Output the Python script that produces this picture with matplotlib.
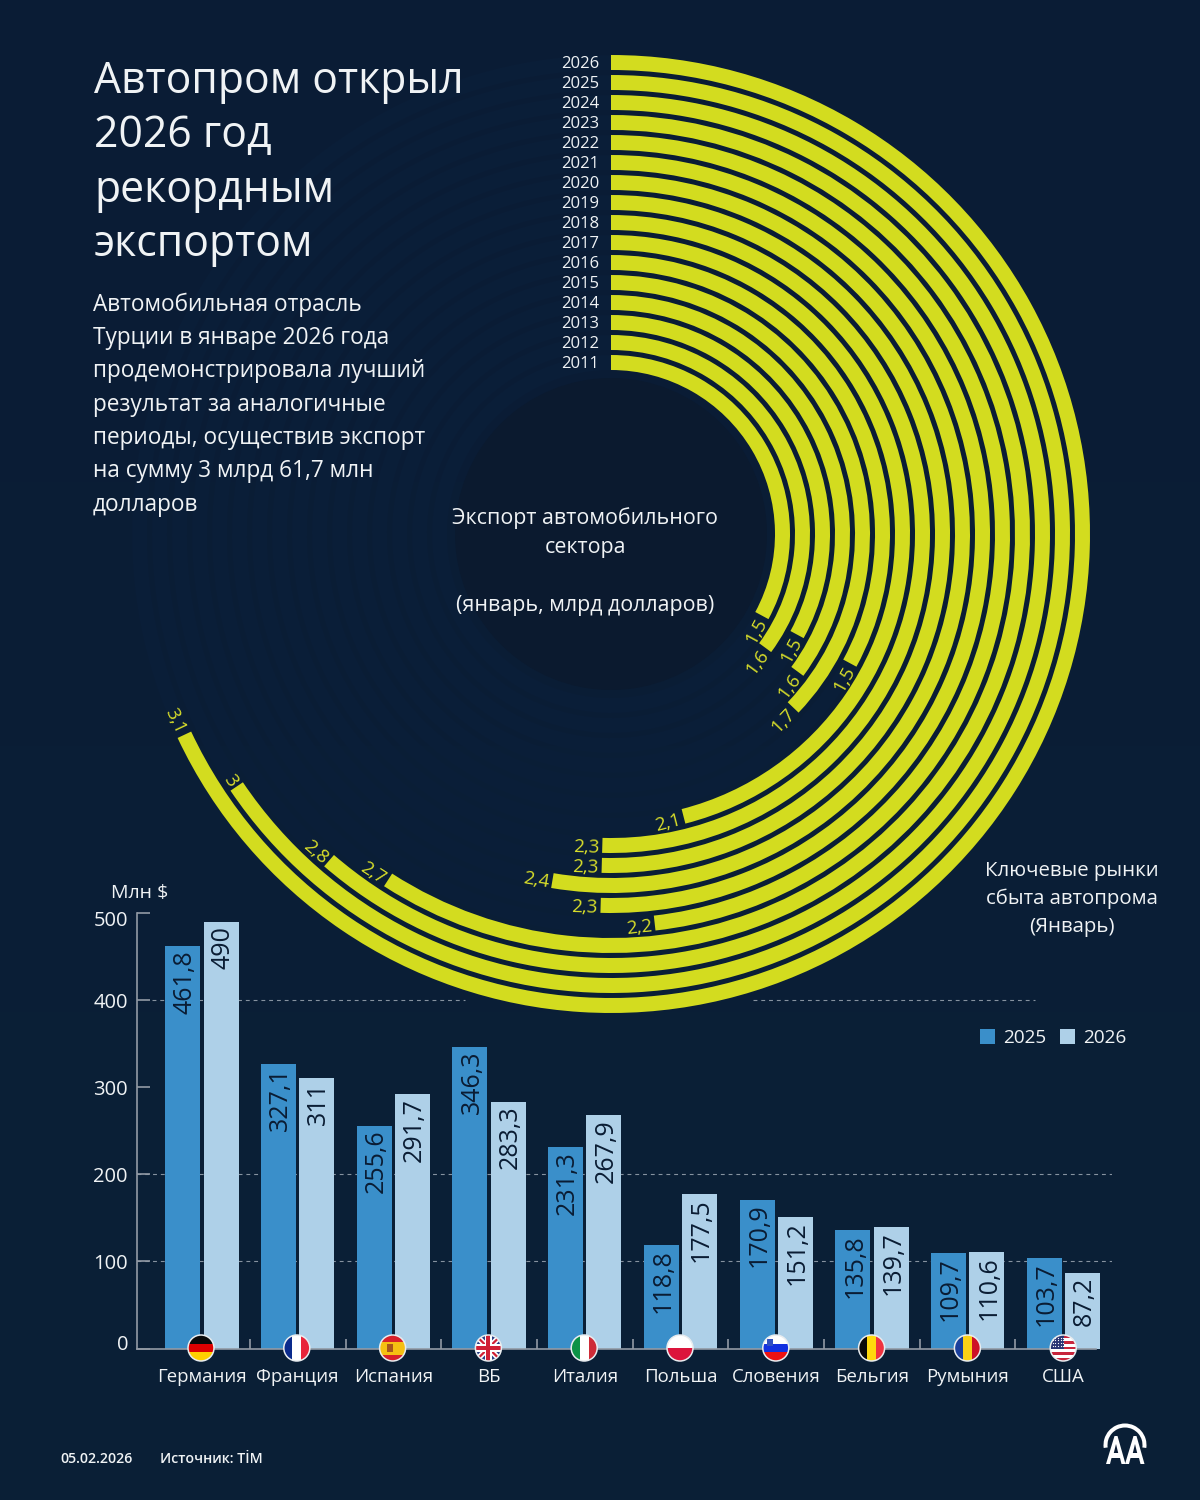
import numpy as np
import matplotlib
matplotlib.use("Agg")
import matplotlib.pyplot as plt
from matplotlib.patches import Circle, Rectangle, Polygon, Wedge
from matplotlib.transforms import ScaledTranslation

plt.rcParams['font.family'] = ['Open Sans', 'DejaVu Sans']

# ---------- data ----------
years = [2026, 2025, 2024, 2023, 2022, 2021, 2020, 2019, 2018, 2017, 2016, 2015, 2014, 2013, 2012, 2011]
exports = [3.06, 2.95, 2.76, 2.66, 2.17, 2.27, 2.37, 2.27, 2.27, 2.07, 1.48, 1.67, 1.58, 1.48, 1.58, 1.48]
countries = ["Германия", "Франция", "Испания", "ВБ", "Италия", "Польша", "Словения", "Бельгия", "Румыния", "США"]
v2025 = [461.8, 327.1, 255.6, 346.3, 231.3, 118.8, 170.9, 135.8, 109.7, 103.7]
v2026 = [490, 311, 291.7, 283.3, 267.9, 177.5, 151.2, 139.7, 110.6, 87.2]
y_ticks = [0, 100, 200, 300, 400, 500]
title_lines = ["Автопром открыл", "2026 год", "рекордным", "экспортом"]
body_lines = ["Автомобильная отрасль", "Турции в январе 2026 года", "продемонстрировала лучший",
              "результат за аналогичные", "периоды, осуществив экспорт", "на сумму 3 млрд 61,7 млн", "долларов"]

# ---------- style ----------
W, H = 1200, 1500
PX = 72 / 100
BG = '#0a1c34'
YEL = '#d3dc1f'
YELT = '#d9df2a'
C25 = '#3a8fca'
C26 = '#aed0e8'
INK = '#0a1c33'
TXT = '#f0f3f5'
AX = '#929aa5'
DEG_PER_UNIT = 80.0

fig = plt.figure(figsize=(12, 15), dpi=100, facecolor=BG)

# background
bg = fig.add_axes([0, 0, 1, 1], zorder=0)
bg.imshow([[0.0], [1.0]], extent=(0, W, H, 0), aspect='auto', interpolation='bicubic',
          cmap=matplotlib.colors.LinearSegmentedColormap.from_list('b', ['#0a1c35', '#0a2037']))
bg.set_xlim(0, W); bg.set_ylim(H, 0); bg.axis('off')
bg.add_patch(Circle((611, 534), 156, fc='#0b1a2f', ec='none', zorder=3))

# ---------- radial bars ----------
cx, cy, rmax = 611, 534, 500
pol = fig.add_axes([(cx - rmax) / W, (H - cy - rmax) / H, 2 * rmax / W, 2 * rmax / H],
                   projection='polar', zorder=2)
pol.patch.set_alpha(0)
pol.set_theta_zero_location('N'); pol.set_theta_direction(-1)
pol.set_ylim(0, rmax); pol.axis('off')
radii = [471.5 - 20 * i for i in range(len(years))]
thetas = np.radians(np.array(exports) * DEG_PER_UNIT)
pol.barh(radii, 2 * np.pi - thetas, left=thetas, height=15, color='#0a1e38', linewidth=0, zorder=1)
pol.barh(radii, thetas, left=0, height=15, color=YEL, linewidth=0, zorder=3)
for yr, r, v, th in zip(years, radii, exports, thetas):
    lab = f"{v:.1f}".replace('.', ',').replace(',0', '')
    pol.text(th + 3 / r, r + 2.5, lab, rotation=180 - np.degrees(th), rotation_mode='anchor',
             ha='right', va='center', color=YELT, fontsize=13.5, zorder=4)
    pol.annotate(str(yr), (0, r), xytext=(-12 * PX, -1.5 * PX), textcoords='offset points',
                 ha='right', va='center', color=TXT, fontsize=12, zorder=4)

# ---------- bar chart ----------
L, R, B, T = 137, 1112, 1348.5, 913
x0, pitch = 202, 95.7
ax = fig.add_axes([L / W, (H - B) / H, (R - L) / W, (B - T) / H], zorder=3)
ax.patch.set_alpha(0)
px2x = lambda p: (p - x0) / pitch
ax.set_xlim(px2x(L), px2x(R)); ax.set_ylim(0, 500)
x = np.arange(len(countries))
off, bw = 0.2, 0.366
b1 = ax.bar(x - off, v2025, bw, color=C25, label='2025', zorder=3)
b2 = ax.bar(x + off, v2026, bw, color=C26, label='2026', zorder=3)
for bars, vals in ((b1, v2025), (b2, v2026)):
    for rect, v in zip(bars, vals):
        ax.annotate(f"{v:g}".replace('.', ','), (rect.get_x() + rect.get_width() / 2, v),
                    xytext=(2 * PX, -4 * PX), textcoords='offset points', rotation=90,
                    ha='center', va='top', color=INK, fontsize=18, zorder=4)
grid_kw = dict(colors='#8692a0', linewidth=0.8, linestyles=(0, (3.5, 3.5)), zorder=1)
ax.hlines([100, 200], px2x(L), px2x(R), **grid_kw)
ax.hlines([400, 400], [px2x(152), px2x(753)], [px2x(465), px2x(1035)], **grid_kw)
for s in ('top', 'right'):
    ax.spines[s].set_visible(False)
ax.spines['left'].set_color(AX); ax.spines['left'].set_linewidth(1.2)
ax.spines['bottom'].set_color(AX); ax.spines['bottom'].set_linewidth(1.2)
ax.spines['bottom'].set_bounds(px2x(L), px2x(1096))
ax.spines['bottom'].set_zorder(5)
ax.set_yticks(y_ticks)
ax.tick_params(axis='y', direction='in', length=13 * PX, width=1.2, color=AX, labelcolor=TXT,
               labelsize=14.5, pad=9 * PX)
ax.set_xticks(x); ax.set_xticklabels(countries)
ax.tick_params(axis='x', which='major', length=0, labelcolor=TXT, labelsize=13.4, pad=19 * PX)
ax.set_xticks(list(x[:-1] + 0.5) + [px2x(1096)], minor=True)
ax.tick_params(axis='x', which='minor', direction='in', length=10 * PX, width=1.2, color=AX)
ylabs = ax.get_yticklabels()
ylabs[0].set_transform(ylabs[0].get_transform() + ScaledTranslation(0, 6 * PX / 72, fig.dpi_scale_trans))
ylabs[-1].set_transform(ylabs[-1].get_transform() + ScaledTranslation(0, -6 * PX / 72, fig.dpi_scale_trans))
fig.legend(handles=[b1, b2], loc='center left', bbox_to_anchor=(980 / W, 1 - 1038 / H), ncols=2,
           frameon=False, fontsize=13.7, labelcolor=TXT, handlelength=0.79, handleheight=0.79,
           handletextpad=0.42, columnspacing=0.74, borderpad=0, borderaxespad=0)

# ---------- overlay (text, flags, logo) ----------
ov = fig.add_axes([0, 0, 1, 1], zorder=5)
ov.patch.set_alpha(0)
ov.set_xlim(0, W); ov.set_ylim(H, 0); ov.axis('off')

for line, y in zip(title_lines, (82, 136, 191, 245)):
    ov.text(94, y, line, color=TXT, fontsize=30.8, va='center', ha='left')
for line, y in zip(body_lines, (305, 338, 371, 405, 438, 471, 505)):
    ov.text(93, y, line, color=TXT, fontsize=16.3, va='center', ha='left')
for line, y in zip(["Экспорт автомобильного", "сектора", "(январь, млрд долларов)"], (518, 547, 605)):
    ov.text(585, y, line, color=TXT, fontsize=15.4, va='center', ha='center')
for line, y in zip(["Ключевые рынки", "сбыта автопрома", "(Январь)"], (871, 899, 927)):
    ov.text(1072, y, line, color=TXT, fontsize=14.7, va='center', ha='center')
ov.text(111, 893, "Млн $", color=TXT, fontsize=14, va='center', ha='left')
ov.text(60, 1459, "05.02.2026", color=TXT, fontsize=10.2, va='center', ha='left', fontweight='semibold')
ov.text(160, 1459, "Источник: TİM", color=TXT, fontsize=10.2, va='center', ha='left', fontweight='semibold')


def flag(cx_, cy_, kind, r=13):
    clip = Circle((cx_, cy_), r, fc='white', ec='none', zorder=20)
    ov.add_patch(clip)
    def rect(x_, y_, w_, h_, c):
        p = Rectangle((cx_ - r + x_ * 2 * r, cy_ - r + y_ * 2 * r), w_ * 2 * r, h_ * 2 * r, fc=c, ec='none', zorder=21)
        ov.add_patch(p); p.set_clip_path(clip)
    def hs(cols, ws=None):
        ws = ws or [1 / len(cols)] * len(cols)
        y_ = 0
        for c, w_ in zip(cols, ws):
            rect(0, y_, 1, w_, c); y_ += w_
    def vs(cols):
        for i, c in enumerate(cols):
            rect(i / len(cols), 0, 1 / len(cols), 1, c)
    if kind == 'de': hs(['#0a0a0a', '#dd0000', '#ffce00'])
    if kind == 'fr': vs(['#0a2a8c', '#ffffff', '#e8243a'])
    if kind == 'es':
        hs(['#d8202a', '#f5bf12', '#d8202a'], [.25, .5, .25]); rect(.3, .36, .22, .28, '#a8551c')
    if kind == 'uk':
        rect(0, 0, 1, 1, '#2a3f86')
        for a, b_, c, lw in (((-1, -1), (1, 1), 'white', 4), ((-1, 1), (1, -1), 'white', 4),
                             ((-1, -1), (1, 1), '#d01f35', 1.6), ((-1, 1), (1, -1), '#d01f35', 1.6)):
            l, = ov.plot([cx_ + a[0] * r, cx_ + b_[0] * r], [cy_ + a[1] * r, cy_ + b_[1] * r], color=c, lw=lw * 1.0, zorder=22)
            l.set_clip_path(clip)
        for (x_, y_, w_, h_, c) in ((.36, 0, .28, 1, 'white'), (0, .36, 1, .28, 'white'), (.42, 0, .16, 1, '#d01f35'), (0, .42, 1, .16, '#d01f35')):
            p = Rectangle((cx_ - r + x_ * 2 * r, cy_ - r + y_ * 2 * r), w_ * 2 * r, h_ * 2 * r, fc=c, ec='none', zorder=23)
            ov.add_patch(p); p.set_clip_path(clip)
    if kind == 'it': vs(['#0c9246', '#ffffff', '#ce2b37'])
    if kind == 'pl': hs(['#ffffff', '#dc143c'], [.5, .5])
    if kind == 'si':
        hs(['#ffffff', '#1230e0', '#ee1111']); rect(.18, .15, .2, .26, '#3050c0')
    if kind == 'be': vs(['#0a0a0a', '#ffd90c', '#ef3340'])
    if kind == 'ro': vs(['#1a3f9c', '#fcd116', '#ce1126'])
    if kind == 'us':
        hs(['#c8253c', '#ffffff'] * 4 + ['#c8253c'])
        rect(0, 0, .55, .52, '#2a3473')
        for i in range(4):
            for j in range(5):
                s = ov.scatter(cx_ - r + (.1 + j * .1) * 2 * r, cy_ - r + (.1 + i * .11) * 2 * r, s=0.8, c='white', lw=0, zorder=24)
                s.set_clip_path(clip)
    ov.add_patch(Circle((cx_, cy_), r, fc='none', ec='#e8ecef', lw=1.1, zorder=30))


for i, k in enumerate(['de', 'fr', 'es', 'uk', 'it', 'pl', 'si', 'be', 'ro', 'us']):
    flag(201 + 95.8 * i, 1348, k)

# AA logo
ov.add_patch(Wedge((1125, 1445), 21.5, 172, 368, width=4, fc='white', ec='none', zorder=20))
for dx in (0, 19):
    ov.add_patch(Polygon([(1106 + dx, 1464), (1114.5 + dx, 1436), (1117.5 + dx, 1436), (1125.5 + dx, 1464),
                          (1121.5 + dx, 1464), (1120 + dx, 1458), (1111.5 + dx, 1458), (1110 + dx, 1464)],
                         fc='white', ec='none', zorder=21))
    ov.add_patch(Polygon([(1113.8 + dx, 1453), (1116 + dx, 1444), (1118.2 + dx, 1453)], fc=BG, ec='none', zorder=22))

fig.savefig('out.png', dpi=100, facecolor=BG)
